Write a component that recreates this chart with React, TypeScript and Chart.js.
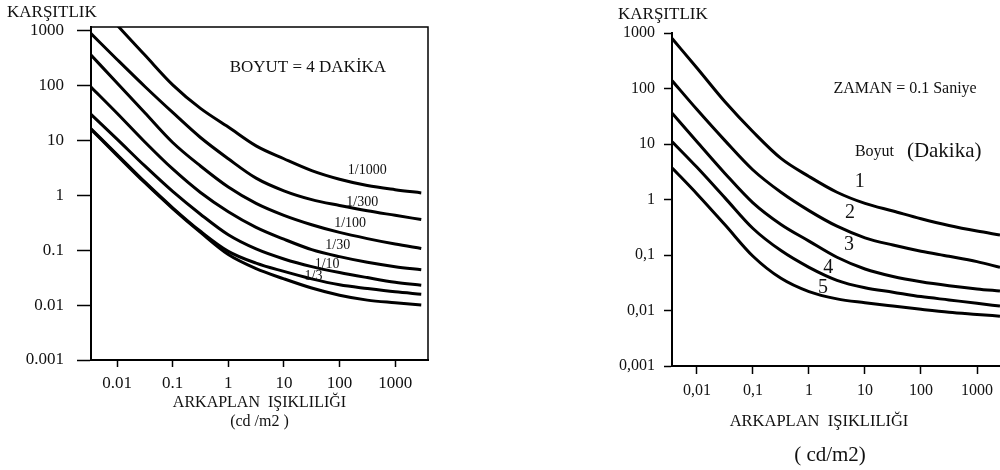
import React, { useEffect, useRef } from 'react';
import { Chart, registerables } from 'chart.js';

Chart.register(...registerables);

const FONT = "'Liberation Serif', 'Times New Roman', Times, serif";

// ---------- Left chart (BOYUT = 4 DAKİKA) ----------
const leftX = [0.0034, 0.01, 0.0316, 0.1, 0.316, 1, 3.16, 10, 31.6, 100, 316, 1000, 2950];
const leftSeriesNames = ['1/1000', '1/300', '1/100', '1/30', '1/10', '1/3', 'alt'];
const left1000 = [4300, 1250, 355, 102, 38, 17.4, 7.9, 4.6, 2.8, 1.95, 1.5, 1.26, 1.1];
const left300 = [870, 295, 95, 32, 11.2, 4.6, 2.04, 1.2, 0.83, 0.65, 0.52, 0.43, 0.36];
const left100 = [355, 110, 31.6, 9.1, 3.4, 1.41, 0.71, 0.43, 0.29, 0.21, 0.162, 0.129, 0.107];
const left30 = [93, 31, 9.3, 3.0, 1.12, 0.5, 0.26, 0.158, 0.102, 0.076, 0.06, 0.05, 0.044];
const left10 = [29.5, 10.5, 3.4, 1.17, 0.45, 0.19, 0.105, 0.069, 0.05, 0.039, 0.0316, 0.026, 0.023];
const left3 = [16.2, 5.5, 1.74, 0.59, 0.22, 0.095, 0.058, 0.041, 0.03, 0.0234, 0.02, 0.0174, 0.0158];
const leftBottom = [15.8, 5.3, 1.68, 0.57, 0.21, 0.083, 0.046, 0.03, 0.0204, 0.0151, 0.0123, 0.011, 0.01];
const leftSeries = [left1000, left300, left100, left30, left10, left3, leftBottom];

const leftXTicks = [0.01, 0.1, 1, 10, 100, 1000];
const leftXTickLabels = ['0.01', '0.1', '1', '10', '100', '1000'];
const leftYTicks = [0.001, 0.01, 0.1, 1, 10, 100, 1000];
const leftYTickLabels = ['0.001', '0.01', '0.1', '1', '10', '100', '1000'];

// curve label anchors (data coordinates)
const leftLabelTexts = ['1/1000', '1/300', '1/100', '1/30', '1/10', '1/3'];
const leftLabelX = [316, 257, 155, 93, 60, 34];
const leftLabelY = [2.85, 0.746, 0.309, 0.123, 0.054, 0.034];

// ---------- Right chart (ZAMAN = 0.1 Saniye) ----------
const rightX = [0.0036, 0.01, 0.0316, 0.1, 0.316, 1, 3.16, 10, 31.6, 100, 316, 1000, 2570];
const rightSeriesNames = ['1', '2', '3', '4', '5'];
const right1 = [794, 234, 57.5, 16.6, 5.5, 2.6, 1.35, 0.85, 0.62, 0.45, 0.34, 0.27, 0.23];
const right2 = [138, 41.7, 11.5, 3.4, 1.35, 0.63, 0.33, 0.204, 0.151, 0.117, 0.095, 0.076, 0.06];
const right3 = [36, 11, 2.95, 0.87, 0.355, 0.178, 0.091, 0.056, 0.041, 0.033, 0.028, 0.0245, 0.0224];
const right4 = [11, 3.8, 1.07, 0.3, 0.12, 0.06, 0.035, 0.0257, 0.0214, 0.0178, 0.0155, 0.0135, 0.012];
const right5 = [3.7, 1.26, 0.35, 0.095, 0.038, 0.0219, 0.0162, 0.0138, 0.012, 0.0105, 0.0093, 0.0085, 0.0079];
const rightSeries = [right1, right2, right3, right4, right5];

const rightXTicks = [0.01, 0.1, 1, 10, 100, 1000];
const rightXTickLabels = ['0,01', '0,1', '1', '10', '100', '1000'];
const rightYTicks = [0.001, 0.01, 0.1, 1, 10, 100, 1000];
const rightYTickLabels = ['0,001', '0,01', '0,1', '1', '10', '100', '1000'];

const rightLabelTexts = ['1', '2', '3', '4', '5'];
const rightLabelX = [8.1, 5.4, 5.2, 2.2, 1.78];
const rightLabelY = [2.07, 0.57, 0.151, 0.06, 0.026];

type Note = { text: string; x: number; y: number; size: number; data?: boolean; align?: CanvasTextAlign };

const notesPlugin = {
  id: 'notes',
  afterDraw(chart: any, _args: any, opts: any) {
    const ctx = chart.ctx as CanvasRenderingContext2D;
    const xs = chart.scales.x;
    const ys = chart.scales.y;
    const area = chart.chartArea;
    if (opts.frame) {
      ctx.save();
      ctx.strokeStyle = '#000';
      ctx.lineWidth = 1.5;
      ctx.beginPath();
      ctx.moveTo(area.left, area.top);
      ctx.lineTo(area.right, area.top);
      ctx.lineTo(area.right, area.bottom);
      ctx.stroke();
      ctx.restore();
    }
    const items: Note[] = opts.items || [];
    for (let i = 0; i < items.length; i++) {
      const it = items[i];
      ctx.save();
      ctx.font = `${it.size}px ${FONT}`;
      ctx.fillStyle = '#111';
      ctx.textAlign = it.align || 'center';
      ctx.textBaseline = 'middle';
      const px = it.data ? xs.getPixelForValue(it.x) : it.x;
      const py = it.data ? ys.getPixelForValue(it.y) : it.y;
      ctx.fillText(it.text, px, py);
      ctx.restore();
    }
  },
};

function buildDatasets(xs: number[], series: number[][], names: string[]) {
  return series.map((vals, i) => ({
    label: names[i],
    data: vals.map((v, j) => ({ x: xs[j], y: v })),
    borderColor: '#000',
    borderWidth: 3,
    pointRadius: 0,
    fill: false,
    cubicInterpolationMode: 'monotone' as const,
  }));
}

function axisCommon(tickVals: number[], tickLabels: string[], fontSize: number, tickLength: number, padding: number) {
  return {
    type: 'logarithmic' as const,
    afterBuildTicks: (s: any) => {
      s.ticks = tickVals.map((v) => ({ value: v }));
    },
    ticks: {
      callback: (_v: any, i: number) => tickLabels[i],
      font: { family: FONT, size: fontSize },
      color: '#111',
      padding,
      autoSkip: false,
      maxRotation: 0,
      minRotation: 0,
    },
    grid: {
      display: true,
      drawOnChartArea: false,
      drawTicks: true,
      tickLength,
      tickColor: '#000',
      tickWidth: 1.5,
      color: '#000',
    },
    border: { display: true, color: '#000', width: 2 },
  };
}

function leftConfig(): any {
  return {
    type: 'line',
    data: { datasets: buildDatasets(leftX, leftSeries, leftSeriesNames) },
    options: {
      responsive: false,
      animation: false,
      events: [],
      layout: { padding: { top: 27, right: 12, left: 0, bottom: 0 } },
      scales: {
        x: {
          ...axisCommon(leftXTicks, leftXTickLabels, 17, 7, 6),
          min: 0.0034,
          max: 3900,
          afterFit: (s: any) => {
            s.height = 110;
          },
          title: {
            display: true,
            text: ['ARKAPLAN  IŞIKLILIĞI', '(cd /m2 )'],
            color: '#111',
            font: { family: FONT, size: 16, lineHeight: '19px' },
            padding: { top: 0, bottom: 38.5 },
          },
        },
        y: {
          ...axisCommon(leftYTicks, leftYTickLabels, 17, 14, 13),
          min: 0.001,
          max: 1150,
          afterFit: (s: any) => {
            s.width = 91;
          },
        },
      },
      plugins: {
        legend: { display: false },
        tooltip: { enabled: false },
        notes: {
          frame: true,
          items: [
            { text: 'KARŞITLIK', x: 7, y: 13, size: 17, align: 'left' },
            { text: 'BOYUT = 4 DAKİKA', x: 27, y: 214, size: 17, data: true },
            ...leftLabelTexts.map((t, i) => ({ text: t, x: leftLabelX[i], y: leftLabelY[i], size: 14, data: true })),
          ],
        },
      },
    },
    plugins: [notesPlugin],
  };
}

function rightConfig(): any {
  return {
    type: 'line',
    data: { datasets: buildDatasets(rightX, rightSeries, rightSeriesNames) },
    options: {
      responsive: false,
      animation: false,
      events: [],
      layout: { padding: { top: 33, right: 0, left: 0, bottom: 0 } },
      scales: {
        x: {
          ...axisCommon(rightXTicks, rightXTickLabels, 16, 8, 7),
          min: 0.00358,
          max: 2570,
          afterFit: (s: any) => {
            s.height = 104;
          },
        },
        y: {
          ...axisCommon(rightYTicks, rightYTickLabels, 16, 8, 9),
          min: 0.001,
          max: 1000,
          afterFit: (s: any) => {
            s.width = 132;
          },
        },
      },
      plugins: {
        legend: { display: false },
        tooltip: { enabled: false },
        notes: {
          frame: false,
          items: [
            { text: 'KARŞITLIK', x: 78, y: 15, size: 17, align: 'left' },
            { text: 'ZAMAN = 0.1 Saniye', x: 52, y: 98, size: 16, data: true },
            { text: 'Boyut', x: 6.6, y: 7.2, size: 16, data: true, align: 'left' },
            { text: '(Dakika)', x: 56, y: 7.2, size: 21, data: true, align: 'left' },
            ...rightLabelTexts.map((t, i) => ({ text: t, x: rightLabelX[i], y: rightLabelY[i], size: 20, data: true })),
            { text: 'ARKAPLAN  IŞIKLILIĞI', x: 279, y: 422, size: 16.5 },
            { text: '( cd/m2)', x: 290, y: 455, size: 21 },
          ],
        },
      },
    },
    plugins: [notesPlugin],
  };
}

function ChartCanvas({ left, width, makeConfig }: { left: number; width: number; makeConfig: () => any }) {
  const ref = useRef<HTMLCanvasElement | null>(null);
  useEffect(() => {
    if (!ref.current) return;
    const chart = new Chart(ref.current, makeConfig());
    return () => chart.destroy();
  }, [makeConfig]);
  return (
    <canvas
      ref={ref}
      width={width}
      height={470}
      style={{ position: 'absolute', left, top: 0, width, height: 470 }}
    />
  );
}

export default function App() {
  return (
    <div
      style={{
        position: 'fixed',
        left: 0,
        top: 0,
        width: 1000,
        height: 470,
        background: '#fff',
        overflow: 'hidden',
      }}
    >
      <ChartCanvas left={0} width={440} makeConfig={leftConfig} />
      <ChartCanvas left={540} width={460} makeConfig={rightConfig} />
    </div>
  );
}
